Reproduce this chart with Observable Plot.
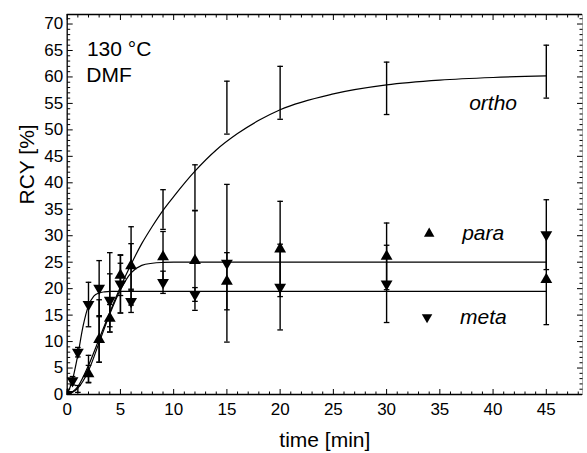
<!DOCTYPE html>
<html><head><meta charset="utf-8">
<script src="https://cdn.jsdelivr.net/npm/d3@7"></script>
<script src="https://cdn.jsdelivr.net/npm/@observablehq/plot@0.6"></script>
<style>body{margin:0;background:#fff} svg{display:block}</style>
</head><body><div id="chart"></div>
<script>
// ---- data ----
const paraT   = [0, 2, 3, 4, 5, 6, 9, 12, 15, 20, 30, 45];
const paraY   = [0, 3.9, 10.4, 14.4, 22.5, 24.3, 26.0, 25.3, 21.4, 27.5, 26.1, 21.7];
const paraErr = [0, 1.6, 4.3, 2.6, 3.8, 7.4, 4.8, 9.4, 5.4, 9.0, 6.3, 8.5];

const metaT   = [0, 0.5, 1, 2, 3, 4, 5, 6, 9, 12, 15, 20, 30, 45];
const metaY   = [0, 2.6, 8.0, 17.0, 20.1, 17.8, 20.9, 17.6, 21.2, 18.9, 24.8, 20.3, 20.9, 30.2];
const metaErr = [0, 0.8, 0.9, 4.2, 5.2, 5.0, 5.5, 2.1, 2.1, 1.3, 14.9, 8.1, 7.3, 6.6];

const orthoT   = [1, 2, 3, 4, 5, 6, 9, 12, 15, 20, 30, 45];
const orthoY   = [1.05, 4.8, 12.0, 19.3, 20.1, 24.2, 34.95, 39.1, 54.2, 57.0, 57.85, 61.0];
const orthoErr = [0.65, 2.6, 5.9, 7.5, 4.7, 4.3, 3.75, 4.3, 5.0, 5.0, 4.95, 5.0];

// fitted curves
const orthoFitT = [0, 1, 2, 3, 4, 5, 6, 7, 8, 9, 10, 12, 14, 16, 18, 20, 25, 30, 35, 40, 45];
const orthoFitY = [0, 1.5, 5.5, 10.5, 15.5, 20.3, 24.6, 28.5, 31.8, 34.8, 37.4, 42.2, 46.2, 49.3, 51.8, 53.8, 56.8, 58.5, 59.4, 59.9, 60.2];
const paraFitT = [0, 1, 2, 3, 4, 5, 6, 7, 8, 9, 10, 12, 20, 45];
const paraFitY = [0, 1.2, 4.5, 9.8, 15.2, 19.8, 23.0, 24.4, 24.8, 24.95, 25, 25, 25, 25];
const metaFitT = [0, 0.5, 1, 1.5, 2, 2.5, 3, 3.5, 4, 5, 10, 45];
const metaFitY = [0, 2.8, 7.5, 13, 16.8, 18.6, 19.2, 19.4, 19.5, 19.5, 19.5, 19.5];

const xTicks = [0, 5, 10, 15, 20, 25, 30, 35, 40, 45];
const yTicks = [0, 5, 10, 15, 20, 25, 30, 35, 40, 45, 50, 55, 60, 65, 70];
const xDomain = [0, 48.4];
const yDomain = [0, 71.8];

const legend = [
  {name: "para", t: 34, y: 30.4, tx: 37.1, rot: 0},
  {name: "meta", t: 33.8, y: 14.6, tx: 36.9, rot: 180}
];
const notes = [
  {text: "130 °C", t: 1.85, y: 65.3},
  {text: "DMF", t: 1.8, y: 60.4},
  {text: "ortho", t: 40.0, y: 55.0}
];

// ---- build tables ----
const rows = (T, Y, E) => T.map((t, i) => ({t, y: Y[i], lo: Y[i] - E[i], hi: Y[i] + E[i], e: E[i]}));
const para = rows(paraT, paraY, paraErr);
const meta = rows(metaT, metaY, metaErr);
const ortho = rows(orthoT, orthoY, orthoErr);
const bars = [...para, ...meta, ...ortho].filter(d => d.e > 0);
const fit = (T, Y) => T.map((t, i) => ({t, y: Y[i]}));

const sym = f => ({draw(ctx) { f(ctx); }});
const cap = sym(c => { c.moveTo(-2.8, 0); c.lineTo(2.8, 0); });
const up = L => sym(c => { c.moveTo(0, 0); c.lineTo(0, -L); });
const down = L => sym(c => { c.moveTo(0, 0); c.lineTo(0, L); });
const right = L => sym(c => { c.moveTo(0, 0); c.lineTo(L, 0); });
const left = L => sym(c => { c.moveTo(0, 0); c.lineTo(-L, 0); });

const xMinor = d3.range(0, 49, 1);
const yMinor = d3.range(0, 72, 1);

const font = "'Liberation Sans', Arial, Helvetica, sans-serif";
const tickMk = (data, x, y, symbol) => Plot.dot(data, {x, y, symbol, stroke: "black", fill: "none", strokeWidth: 1});

const chart = Plot.plot({
  width: 587, height: 453,
  marginLeft: 66.7, marginRight: 5, marginTop: 14, marginBottom: 59,
  x: {domain: xDomain, label: null},
  y: {domain: yDomain, label: null},
  style: {fontFamily: font, fontSize: "17px", color: "black", background: "white"},
  marks: [
    // frame
    Plot.ruleX([xDomain[1]], {stroke: "#999", strokeWidth: 0.8}),
    Plot.ruleX([0], {stroke: "black", strokeWidth: 1.3}),
    Plot.ruleY([0], {stroke: "black", strokeWidth: 1.3}),
    Plot.ruleY([yDomain[1]], {stroke: "black", strokeWidth: 1.3}),
    // inward ticks
    tickMk(xMinor.filter(v => v % 5), d => d, () => 0, up(3)),
    tickMk(xTicks, d => d, () => 0, up(5.5)),
    tickMk(xMinor.filter(v => v % 5), d => d, () => yDomain[1], down(3)),
    tickMk(xTicks, d => d, () => yDomain[1], down(5.5)),
    tickMk(yMinor.filter(v => v % 5), () => 0, d => d, right(3)),
    tickMk(yTicks, () => 0, d => d, right(5.5)),
    tickMk(yMinor.filter(v => v % 5), () => xDomain[1], d => d, left(3)),
    tickMk(yTicks, () => xDomain[1], d => d, left(5.5)),
    // tick labels
    Plot.axisX({ticks: xTicks, tickSize: 0, tickPadding: 8, fontSize: 17, tickFormat: d => d, label: null}),
    Plot.axisY({ticks: yTicks, tickSize: 0, tickPadding: 4, fontSize: 17, tickFormat: d => d, label: null}),
    // axis titles
    Plot.text(["time [min]"], {frameAnchor: "bottom", dy: 46, fontSize: 21, lineAnchor: "middle", text: d => d}),
    Plot.text(["RCY [%]"], {frameAnchor: "left", dx: -40, rotate: -90, fontSize: 21, lineAnchor: "middle", text: d => d}),
    // fits
    Plot.line(fit(orthoFitT, orthoFitY), {x: "t", y: "y", curve: "monotone-x", stroke: "black", strokeWidth: 1.2}),
    Plot.line(fit(paraFitT, paraFitY), {x: "t", y: "y", curve: "monotone-x", stroke: "black", strokeWidth: 1.2}),
    Plot.line(fit(metaFitT, metaFitY), {x: "t", y: "y", curve: "monotone-x", stroke: "black", strokeWidth: 1.2}),
    // error bars
    Plot.ruleX(bars, {x: "t", y1: d => Math.max(0, d.lo), y2: "hi", stroke: "black", strokeWidth: 1.4}),
    Plot.dot(bars, {x: "t", y: "hi", symbol: cap, stroke: "black", fill: "none", strokeWidth: 1.3}),
    Plot.dot(bars.filter(d => d.lo >= 0), {x: "t", y: "lo", symbol: cap, stroke: "black", fill: "none", strokeWidth: 1.3}),
    // markers
    Plot.dot(para, {x: "t", y: "y", symbol: "triangle", r: 4.4, fill: "black", stroke: "none", clip: true}),
    Plot.dot(meta, {x: "t", y: "y", symbol: "triangle", rotate: 180, r: 4.4, fill: "black", stroke: "none", clip: true}),
    // legend
    Plot.dot(legend, {x: "t", y: "y", symbol: "triangle", rotate: "rot", r: 3.9, fill: "black", stroke: "none"}),
    Plot.text(legend, {x: "tx", y: "y", text: "name", textAnchor: "start", fontSize: 21, fontStyle: "italic", lineAnchor: "middle"}),
    // annotations
    Plot.text(notes.slice(0, 2), {x: "t", y: "y", text: "text", textAnchor: "start", fontSize: 21, lineAnchor: "middle"}),
    Plot.text(notes.slice(2), {x: "t", y: "y", text: "text", textAnchor: "middle", fontSize: 21, fontStyle: "italic", lineAnchor: "middle"})
  ]
});
document.getElementById("chart").append(chart);
</script>
</body></html>
